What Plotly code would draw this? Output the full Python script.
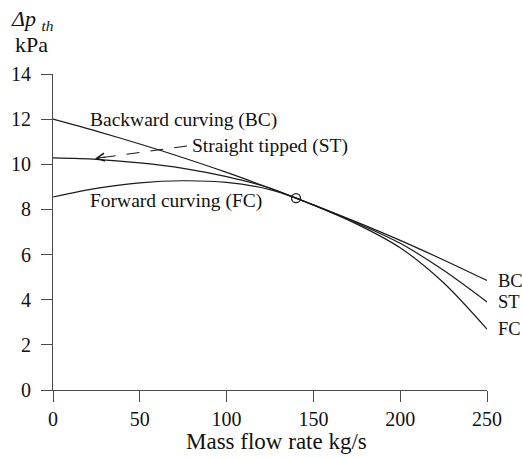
import plotly.graph_objects as go

# Data
flow = [0, 25, 50, 75, 100, 125, 140, 150, 175, 200, 225, 250]
bc = [12.0, 11.47, 10.9, 10.29, 9.64, 8.94, 8.5, 8.2, 7.44, 6.63, 5.76, 4.85]
st = [10.28, 10.22, 10.06, 9.82, 9.45, 8.95, 8.5, 8.2, 7.4, 6.5, 5.3, 3.9]
fc = [8.55, 8.93, 9.18, 9.27, 9.2, 8.88, 8.5, 8.19, 7.35, 6.3, 4.75, 2.7]
design_point_x = [140]
design_point_y = [8.5]
x_ticks = [0, 50, 100, 150, 200, 250]
y_ticks = [0, 2, 4, 6, 8, 10, 12, 14]

FONT = "Liberation Serif"
LINE = "#1a1a1a"
AXIS = "#4a4a4a"

fig = go.Figure()
for name, ys in [("BC", bc), ("ST", st), ("FC", fc)]:
    fig.add_trace(go.Scatter(x=flow, y=ys, mode="lines", name=name,
                             line=dict(color=LINE, width=1.2, shape="spline", smoothing=0.8),
                             showlegend=False, cliponaxis=False))
fig.add_trace(go.Scatter(x=design_point_x, y=design_point_y, mode="markers",
                         marker=dict(symbol="circle-open", size=9, color=LINE, line=dict(width=1.3)),
                         showlegend=False, cliponaxis=False))

ann_font = dict(family=FONT, size=19.5, color="#111")
annotations = [
    dict(x=20.2, y=11.98, text="Backward curving (BC)"),
    dict(x=78.9, y=10.83, text="Straight tipped (ST)"),
    dict(x=20.2, y=8.38, text="Forward curving (FC)"),
]
for a in annotations:
    fig.add_annotation(xref="x", yref="y", showarrow=False, font=ann_font,
                       xanchor="left", yanchor="middle", **a)
for txt, yv in [("BC", bc[-1]), ("ST", st[-1]), ("FC", fc[-1])]:
    fig.add_annotation(xref="paper", yref="y", x=1.02, y=yv, text=txt, showarrow=False,
                       font=dict(family=FONT, size=18.5, color="#111"),
                       xanchor="left", yanchor="middle")

# dashed leader with arrowhead for ST label
fig.add_shape(type="line", xref="x", yref="y", x0=77.2, y0=10.81, x1=26.0, y1=10.275,
              line=dict(color=LINE, width=1.1, dash="13px,11px"))
fig.add_annotation(xref="x", yref="y", axref="x", ayref="y", x=24.2, y=10.26, ax=31.0, ay=10.33,
                   text="", showarrow=True, arrowhead=5, arrowsize=1.4, arrowwidth=1.1,
                   arrowcolor=LINE)

# y axis title (two lines)
fig.add_annotation(xref="paper", yref="paper", x=-0.1014, y=1.171, text="<i>Δp</i> <sub><i>th</i></sub>",
                   showarrow=False, xanchor="left", yanchor="middle",
                   font=dict(family=FONT, size=22, color="#111"))
fig.add_annotation(xref="paper", yref="paper", x=-0.0922, y=1.0918, text="kPa",
                   showarrow=False, xanchor="left", yanchor="middle",
                   font=dict(family=FONT, size=22, color="#111"))
# x axis title
fig.add_annotation(xref="paper", yref="paper", x=0.514, y=-0.162, text="Mass flow rate kg/s",
                   showarrow=False, xanchor="center", yanchor="middle",
                   font=dict(family=FONT, size=23, color="#111"))

axis_common = dict(showgrid=False, zeroline=False, showline=True, linecolor=AXIS, linewidth=1.2,
                   ticks="outside", ticklen=11, tickwidth=1.2, tickcolor=AXIS, automargin=False,
                   tickfont=dict(family=FONT, size=20, color="#111"))
fig.update_xaxes(range=[0, 250], tickvals=x_ticks, ticklabelstandoff=0, **axis_common)
fig.update_yaxes(range=[0, 14], tickvals=y_ticks, ticklabelstandoff=6, **axis_common)

fig.update_layout(width=522, height=458, autosize=False,
                  margin=dict(l=53, r=35, t=74, b=68),
                  plot_bgcolor="white", paper_bgcolor="white",
                  font=dict(family=FONT, color="#111"))

fig.write_html("out.html", config={"displayModeBar": False},
               post_script="document.body.style.margin='0px';document.body.style.overflow='hidden';")
